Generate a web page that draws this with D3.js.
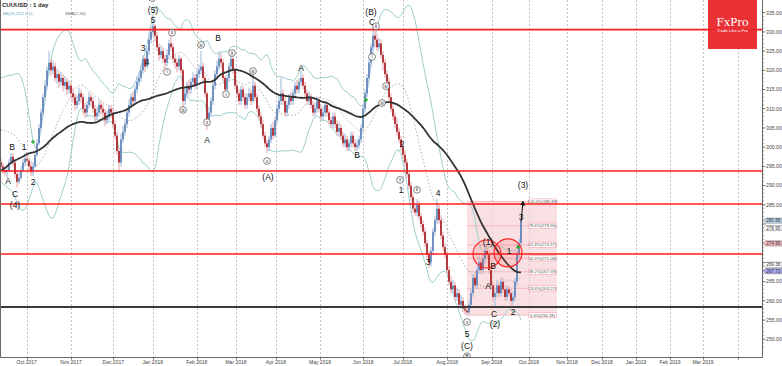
<!DOCTYPE html>
<html>
<head>
<meta charset="utf-8">
<script src="https://cdn.jsdelivr.net/npm/d3@7/dist/d3.min.js"></script>
<style>
  body { margin: 0; background: #fff; }
  svg { display: block; font-family: "Liberation Sans", Arial, sans-serif; }
</style>
</head>
<body>
<svg width="782" height="366"></svg>
<script>
// daily closes before the visible window, only used to warm up SMA / BB
const preCloses = [276, 274, 273, 274, 275, 277, 279, 280, 279, 281,
    282, 281, 283, 285, 287, 288, 290, 291, 292, 293,
    294, 295, 296, 294, 293, 296, 298, 297, 299, 300,
    298, 295, 297, 299, 301, 302, 301, 304, 306, 309,
    312, 314, 316, 315, 313, 309, 305, 301, 298];

const firstOpen = 296;
const closes = [295, 294, 293.5, 294, 296, 297.5, 296, 293, 291, 292,
    294, 296, 297, 296.5, 295, 293.5, 295, 298, 301, 305,
    309, 313, 316, 320, 322, 320, 321, 318, 319, 317,
    318, 316, 317, 315, 316, 314, 313, 311, 312, 314,
    313, 310, 309, 311, 313, 312, 310, 308, 309, 311,
    310, 309, 307, 308, 310, 309, 306, 303, 299, 296,
    302, 304, 306, 309, 311, 313, 312, 315, 317, 318,
    320, 323, 321, 325, 328, 330, 331.5, 329, 326, 324,
    325, 323, 322, 324, 327, 326, 323, 322, 321, 323,
    320, 312, 314, 316, 315, 317, 318, 316, 319, 320,
    321, 318, 314, 307, 309, 312, 316, 319, 321, 323,
    322, 318, 315, 318, 321, 323, 320, 316, 314, 312,
    315, 313, 311, 313, 314, 312, 316, 313, 310, 308,
    306, 303, 301, 300, 302, 305, 303, 307, 310, 312,
    314, 312, 309, 311, 313, 312, 314, 316, 315, 317,
    318, 316, 314, 312, 313, 311, 309, 310, 312, 310,
    308, 309, 311, 309, 307, 306, 308, 306, 304, 305,
    303, 301, 302, 300, 301, 303, 301, 300, 300.5, 302,
    305, 310, 314, 318, 322, 326, 329, 328, 326, 327,
    324, 322, 319, 317, 313, 310, 308, 306, 304, 302,
    300, 298, 296, 293, 290, 287, 284, 283, 285, 282,
    280, 278, 275, 272, 270, 273, 278, 281, 284, 281,
    277, 274, 272, 268, 265, 263, 264, 261, 262, 259,
    260, 258, 257.5, 257, 259, 262, 266, 264, 268, 270,
    268, 271, 273, 272, 268, 264, 261, 262, 264, 262,
    265, 263, 261, 263, 262, 260, 261, 265, 272, 275,
    280.5];
const highs = [297, 296, 295, 295.5, 297, 298.5, 298.5, 296.5, 294, 293.5,
    295, 297, 298.5, 298, 297, 296, 296, 299, 302, 306,
    310, 314, 317.5, 321, 325, 323, 322.5, 322, 320.5, 320,
    319.5, 319, 318.5, 318, 317.5, 317, 315.5, 314, 313.5, 315.5,
    315, 314, 311.5, 312, 314.5, 314, 313, 311, 310.5, 312.5,
    312, 311.5, 310, 309.5, 311, 311, 310, 307, 304, 300,
    303.5, 305.5, 307, 310, 312.5, 314, 314.5, 316, 318.5, 319.5,
    321.5, 324, 323.5, 326, 329.5, 331.5, 333, 332, 330, 327,
    326.5, 326, 324, 325.5, 328, 330, 327, 324, 323, 324,
    323.5, 320.5, 315.5, 317, 317.5, 318, 319.5, 319, 320, 321.5,
    325, 322, 318.5, 314.5, 310.5, 313, 317, 320, 322.5, 325,
    324.5, 323, 318.5, 319, 322, 324.5, 323.5, 320.5, 317, 315,
    316, 316, 314, 314, 315.5, 315, 319.5, 317, 314, 311,
    309, 307, 304, 302, 303, 306, 306.5, 308, 311, 313.5,
    318, 315, 313, 312, 314, 314.5, 315, 317, 317.5, 318,
    320, 319, 317, 315, 314.5, 314, 312, 311.5, 313, 313,
    311, 310.5, 312, 312, 310, 308, 309, 309, 307, 306.5,
    306, 304, 303.5, 303, 302, 304, 304, 302, 302, 303,
    306, 311, 315, 319, 323, 327, 332, 331, 329.5, 328.5,
    328, 325, 323, 320, 318, 314, 311.5, 309, 307.5, 305,
    303, 301, 299, 297, 294, 291, 288, 285.5, 286.5, 286,
    283, 281, 279, 276, 273, 274, 279, 282, 286.5, 285,
    282, 278, 275, 273, 269, 266.5, 265.5, 265, 263.5, 263,
    261.5, 261, 259, 259, 260, 263, 267, 267.5, 269, 271.5,
    271, 272, 275, 274.5, 273, 269, 265, 263, 265.5, 265,
    266, 266, 264, 264, 264, 263, 262.5, 266, 273, 276,
    281.5];
const lows = [294, 293, 292.5, 292, 293.5, 295.5, 295, 292, 289.5, 290.5,
    291.5, 293.5, 295, 295.5, 294, 292.5, 292.5, 294.5, 297.5, 300.5,
    304, 308, 312, 315, 319, 318.5, 319, 317, 316.5, 315.5,
    316, 314.5, 315, 313.5, 314, 312.5, 311.5, 309.5, 310, 311,
    311.5, 308.5, 307.5, 308, 310, 310.5, 309, 306.5, 307, 308,
    308.5, 307.5, 305.5, 306, 307, 307.5, 305, 302, 298, 293.5,
    295, 301, 303, 305, 308, 310, 310.5, 311, 314, 316,
    317, 319, 319.5, 320.5, 324, 327, 329, 327.5, 325, 322.5,
    323, 322, 320.5, 321, 323, 325, 322, 320.5, 319.5, 320,
    319, 310.5, 311, 313, 313.5, 314, 316, 315, 315, 318,
    319, 317, 313, 304.5, 305.5, 308, 311, 315, 318, 320,
    320.5, 317, 314, 314.5, 317, 320, 319, 315, 313, 311,
    311, 312, 310, 310, 312, 311, 311.5, 312, 309, 307,
    305, 302, 300, 298.5, 299, 301, 302, 302.5, 306, 309,
    311, 311, 308, 308, 310, 311, 311, 313, 314, 314,
    316, 315, 313, 311, 311, 310, 308, 308, 309, 309,
    307, 307, 308, 308, 306, 305, 305, 305, 303, 303,
    302, 300, 300, 299, 299, 300, 300, 299, 299, 299.5,
    301, 304, 309, 313, 317, 321, 325, 326, 325, 325,
    323, 320, 318, 315.5, 312, 309, 307, 305, 303, 301,
    299, 297, 295, 292, 289, 286, 283, 282, 282, 281,
    279, 277, 274, 271, 268.5, 269, 272, 277, 280, 280,
    276, 273, 271, 267, 264, 262, 262, 260, 260, 258,
    258, 257, 256.3, 256.3, 256.5, 258, 261, 263, 263, 267,
    267, 267, 270, 271, 267, 263, 260, 258.5, 261, 261,
    261, 262, 260, 260, 261, 258.5, 259, 260, 264, 271,
    274];

// time axis: bar index of each month tick
const monthLabels = ["Oct 2017", "Nov 2017", "Dec 2017", "Jan 2018", "Feb 2018", "Mar 2018",
    "Apr 2018", "May 2018", "Jun 2018", "Jul 2018", "Aug 2018", "Sep 2018", "Oct 2018",
    "Nov 2018", "Dec 2018", "Jan 2019", "Feb 2019", "Mar 2019", ""];
const monthTicks = [12.85, 35, 56.15, 75.85, 97.85, 117.5, 137.5, 159.5, 181.15, 200.85,
    223.15, 245.35, 264, 283, 300.5, 317.5, 334.5, 351, 368.5];
const priceTicks = [250, 255, 260, 265, 270, 275, 280, 285, 290, 295, 300, 305, 310,
    315, 320, 325, 330, 335];

// horizontal levels
const redLevels = [330.6, 293.8, 285.2, 272.2];
const blackLevels = [258.4];

// fibonacci retracement
const fibLow = 256.28, fibHigh = 285.88;
const fibRatios = [0, 0.236, 0.382, 0.5, 0.618, 0.786, 1];
const fibStartBar = 233, fibEndBar = 278;

// price tags on the right scale
const tagValues = [280.88, 278.95, 274.95, 269.38, 267.73];
const tagKinds = ["bid", "plain", "pink", "plain", "violet"];

// elliott wave annotations: [text, bar, price]
const waveLabels = [
    ["A", 3.5, 291.2], ["B", 5.5, 300.1], ["C", 7, 287.8], ["(4)", 7, 285], ["1", 11.5, 300.1], ["2", 16, 291],
    ["3", 71, 325.8], ["4", 73, 322.2], ["5", 76, 333.1], ["(5)", 76, 335.7],
    ["B", 108.5, 328.4], ["A", 103, 301.9], ["(A)", 133.5, 292.2], ["A", 150, 320.6], ["B", 178, 298],
    ["(B)", 185, 335.2], ["C", 185.5, 332.6], ["2", 200.5, 300.8], ["1", 200, 288.9],
    ["4", 218.5, 288.1], ["3", 213.5, 270.1], ["5", 233, 251.4], ["(C)", 233, 248.3],
    ["(1)", 243.5, 275.3], ["B", 246, 269.1], ["A", 243.5, 263.9], ["C", 246.5, 256.6], ["(2)", 247, 254],
    ["1", 254, 273], ["2", 256, 257.1], ["3", 260, 281.8], ["(3)", 261, 290.2]
];
const circledLabels = [
    ["A", 75.5, 338.8], ["ii", 85.5, 329.8], ["i", 83, 319.6], ["iii", 91, 309.7], ["iv", 100, 326.6],
    ["v", 103, 306.5], ["ii", 115.5, 324.5], ["i", 112.5, 313.8], ["iv", 126, 319.8], ["v", 133, 296.4],
    ["ii", 187.5, 331.5], ["i", 185.5, 323.5], ["iii", 190.5, 311.5], ["iv", 192.5, 315.9],
    ["v", 199.5, 291.5], ["ii", 208, 288.9], ["v", 233, 254.5], ["B", 233, 245.6]
];
// highlighted zones: [bar, price]
const zoneCircles = [[243, 272.2], [253.5, 272.5]];
const greenMarks = [[16, 301.4], [182.5, 312.3], [258.5, 274]];

const svg = d3.select("svg");
const plotRight = 762, plotBottom = 357.5;

const x = d3.scaleLinear().domain([0, 381]).range([1, 763]);
const y = d3.scaleLinear().domain([250, 335]).range([339.3, 12.7]);
const fmt = d3.format(".2f");

// bars with open = previous close
const bars = closes.map((c, i) => ({
    i, c, h: highs[i], l: lows[i], o: i ? closes[i - 1] : firstOpen
}));

// indicators: SMA(50) and Bollinger(20, 2)
const allCloses = preCloses.concat(closes);
const off = preCloses.length;
function smaAt(n, k) {
    const s = allCloses.slice(Math.max(0, k - n + 1), k + 1);
    return d3.mean(s);
}
function bbAt(n, dev, k) {
    const s = allCloses.slice(Math.max(0, k - n + 1), k + 1);
    const m = d3.mean(s);
    const sd = Math.sqrt(d3.mean(s, v => (v - m) * (v - m)));
    return [m + dev * sd, m, m - dev * sd];
}
const sma = closes.map((c, i) => [i, smaAt(50, i + off)]);
const bb = closes.map((c, i) => [i, ...bbAt(20, 2, i + off)]);

svg.append("defs").append("clipPath").attr("id", "plot")
    .append("rect").attr("x", 0).attr("y", 0).attr("width", plotRight).attr("height", plotBottom);

const plot = svg.append("g").attr("clip-path", "url(#plot)");

// vertical grid
plot.append("g").selectAll("line").data(monthTicks).join("line")
    .attr("x1", d => Math.round(x(d)) + 0.5).attr("x2", d => Math.round(x(d)) + 0.5)
    .attr("y1", 0).attr("y2", plotBottom)
    .attr("stroke", "#b4b4b4").attr("stroke-width", 0.8).attr("stroke-dasharray", "2,2");

// fibonacci box
const fibG = plot.append("g");
fibG.append("rect")
    .attr("x", x(fibStartBar)).attr("width", x(fibEndBar) - x(fibStartBar))
    .attr("y", y(fibHigh)).attr("height", y(fibLow) - y(fibHigh))
    .attr("fill", "#f6cfd3").attr("fill-opacity", 0.65);

// bollinger bands
const line = d3.line().x(d => x(d[0])).y(d => y(d[1]));
["#9fcfcf", null, "#9fcfcf"].forEach((col, k) => {
    plot.append("path")
        .datum(bb.map(d => [d[0], d[k + 1]]))
        .attr("d", line)
        .attr("fill", "none")
        .attr("stroke", col || "#9a9a9a")
        .attr("stroke-width", col ? 1 : 0.8)
        .attr("stroke-dasharray", col ? null : "1.5,2");
});

// fib level lines
fibRatios.forEach(r => {
    const v = fibLow + (fibHigh - fibLow) * r;
    fibG.append("line")
        .attr("x1", x(fibStartBar)).attr("x2", x(fibEndBar))
        .attr("y1", y(v)).attr("y2", y(v))
        .attr("stroke", "#f0a0a8").attr("stroke-width", 0.6);
});

// candles
const candles = plot.append("g").selectAll("g").data(bars).join("g");
candles.append("line")
    .attr("x1", d => x(d.i)).attr("x2", d => x(d.i))
    .attr("y1", d => y(d.h)).attr("y2", d => y(d.l))
    .attr("stroke", d => d.c >= d.o ? "#a9c1e0" : "#ebb2b4")
    .attr("stroke-width", 1.2);
candles.append("rect")
    .attr("x", d => x(d.i) - 0.8).attr("width", 1.6)
    .attr("y", d => y(Math.max(d.o, d.c)))
    .attr("height", d => Math.max(0.8, Math.abs(y(d.o) - y(d.c))))
    .attr("fill", d => d.c >= d.o ? "#5b7fb6" : "#a3161b");

// SMA
plot.append("path").datum(sma).attr("d", line)
    .attr("fill", "none").attr("stroke", "#333").attr("stroke-width", 1.8);

// levels
plot.append("g").selectAll("line").data(redLevels).join("line")
    .attr("x1", 0).attr("x2", plotRight)
    .attr("y1", d => y(d)).attr("y2", d => y(d))
    .attr("stroke", "#ff1c1c").attr("stroke-width", 1.6);
plot.append("g").selectAll("line").data(blackLevels).join("line")
    .attr("x1", 0).attr("x2", plotRight)
    .attr("y1", d => y(d)).attr("y2", d => y(d))
    .attr("stroke", "#3a3a3a").attr("stroke-width", 1.8);

// fib tags
fibRatios.forEach(r => {
    const v = fibLow + (fibHigh - fibLow) * r;
    const t = `${(r * 100).toFixed(1)}%(${fmt(v)})`;
    const g = fibG.append("g").attr("transform", `translate(${x(fibEndBar) - 28.5},${y(v)})`);
    g.append("rect").attr("x", 0).attr("y", -2.6).attr("width", 28).attr("height", 5.2)
        .attr("fill", "#fff").attr("stroke", "#f08c96").attr("stroke-width", 0.5).attr("rx", 1);
    g.append("text").attr("x", 14).attr("y", 1.5).attr("text-anchor", "middle")
        .attr("font-size", 4.2).attr("fill", "#555").text(t);
});

// zone circles
plot.append("g").selectAll("circle").data(zoneCircles).join("circle")
    .attr("cx", d => x(d[0])).attr("cy", d => y(d[1])).attr("r", 14)
    .attr("fill", "#ff3030").attr("fill-opacity", 0.12)
    .attr("stroke", "#ff2020").attr("stroke-width", 1.1);

// green markers
plot.append("g").selectAll("path").data(greenMarks).join("path")
    .attr("d", d => `M${x(d[0]) - 2},${y(d[1])}h4M${x(d[0])},${y(d[1]) - 2}v4`)
    .attr("stroke", "#22aa22").attr("stroke-width", 1.2);

// target arrow
const last = bars[bars.length - 1];
svg.append("defs").append("marker").attr("id", "arr")
    .attr("viewBox", "0 0 6 6").attr("refX", 5).attr("refY", 3)
    .attr("markerWidth", 5).attr("markerHeight", 5).attr("orient", "auto")
    .append("path").attr("d", "M0,0L6,3L0,6z").attr("fill", "#111");
plot.append("line")
    .attr("x1", x(last.i)).attr("y1", y(last.c))
    .attr("x2", x(last.i + 1)).attr("y2", y(fibHigh))
    .attr("stroke", "#111").attr("stroke-width", 1).attr("marker-end", "url(#arr)");

// wave labels
plot.append("g").selectAll("text").data(waveLabels).join("text")
    .attr("x", d => x(d[1])).attr("y", d => y(d[2]) + 3)
    .attr("text-anchor", "middle").attr("font-size", 8.5).attr("fill", "#111")
    .text(d => d[0]);
const circ = plot.append("g").selectAll("g").data(circledLabels).join("g")
    .attr("transform", d => `translate(${x(d[1])},${y(d[2])})`);
circ.append("circle").attr("r", 3.4).attr("fill", "#fff").attr("stroke", "#333").attr("stroke-width", 0.6);
circ.append("text").attr("y", 1.6).attr("text-anchor", "middle").attr("font-size", 4.5)
    .attr("fill", "#111").text(d => d[0]);

// logo
const logo = svg.append("g").attr("transform", "translate(708,0)");
logo.append("rect").attr("width", 49).attr("height", 49).attr("fill", "#e8262b").attr("fill-opacity", 0.95);
logo.append("text").attr("x", 24.5).attr("y", 26).attr("text-anchor", "middle")
    .attr("font-family", "Liberation Serif, serif").attr("font-size", 13).attr("fill", "#fff").text("FxPro");
logo.append("text").attr("x", 24.5).attr("y", 32).attr("text-anchor", "middle")
    .attr("font-size", 4.2).attr("fill", "#fff").text("Trade Like a Pro");

// frame
svg.append("path").attr("d", `M0.5,0V${plotBottom}H${plotRight + 0.5}V0`)
    .attr("fill", "none").attr("stroke", "#666").attr("stroke-width", 1);

// price axis (tick labels hidden where a price tag sits)
const yAxis = svg.append("g");
const minor = d3.range(248, 336, 1);
yAxis.selectAll("line.mn").data(minor).join("line").attr("class", "mn")
    .attr("x1", plotRight).attr("x2", plotRight + 2)
    .attr("y1", d => y(d)).attr("y2", d => y(d)).attr("stroke", "#666").attr("stroke-width", 0.6);
yAxis.selectAll("line.mj").data(priceTicks).join("line").attr("class", "mj")
    .attr("x1", plotRight).attr("x2", plotRight + 3.5)
    .attr("y1", d => y(d)).attr("y2", d => y(d)).attr("stroke", "#555").attr("stroke-width", 0.7);
const freeTicks = priceTicks.filter(v => tagValues.every(t => Math.abs(y(t) - y(v)) > 6));
yAxis.selectAll("text").data(freeTicks).join("text")
    .attr("x", plotRight + 4).attr("y", d => y(d) + 1.8)
    .attr("font-size", 5.2).attr("fill", "#444").text(d => fmt(d));

// price tags
const tagFill = { bid: "#bcd6ee", plain: "#fff", pink: "#f4b9be", violet: "#a9a9f2" };
const tags = svg.append("g").selectAll("g").data(tagValues).join("g")
    .attr("transform", d => `translate(${plotRight + 1},${y(d)})`);
tags.append("path").attr("d", "M0,0L2.5,-2.6H19V2.6H2.5Z")
    .attr("fill", (d, k) => tagFill[tagKinds[k]]).attr("stroke", "#777").attr("stroke-width", 0.5);
tags.append("text").attr("x", 3.2).attr("y", 1.6).attr("font-size", 4.6).attr("fill", "#333")
    .text(d => fmt(d));

// time axis
const xAxis = svg.append("g");
xAxis.selectAll("line").data(monthTicks).join("line")
    .attr("x1", d => Math.round(x(d)) + 0.5).attr("x2", d => Math.round(x(d)) + 0.5)
    .attr("y1", plotBottom).attr("y2", plotBottom + 2).attr("stroke", "#666");
xAxis.selectAll("text").data(monthLabels).join("text")
    .attr("x", (d, k) => x(monthTicks[k])).attr("y", 364)
    .attr("text-anchor", "middle").attr("font-size", 5).attr("fill", "#444").text(d => d);

// header
svg.append("text").attr("x", 2).attr("y", 7).attr("font-size", 6).attr("font-weight", "bold")
    .attr("fill", "#222").text("CUUUSD : 1 day");
svg.append("text").attr("x", 3).attr("y", 14.5).attr("font-size", 4.2).attr("fill", "#5aa8b8")
    .text("BB(20,20,2.0,0)");
svg.append("text").attr("x", 65).attr("y", 14.5).attr("font-size", 4.2).attr("fill", "#666")
    .text("SMA(C,50)");
</script>
</body>
</html>
